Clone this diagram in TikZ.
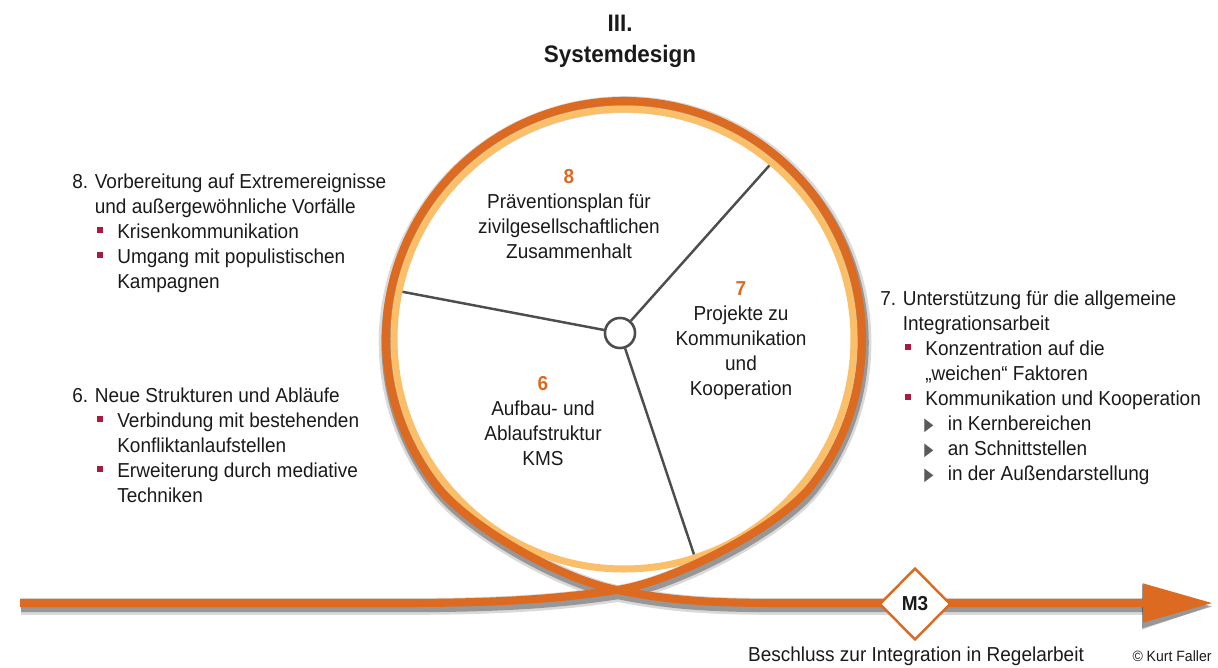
\documentclass[tikz,border=0pt]{standalone}
\usepackage{fontspec}
\setmainfont{Liberation Sans}[FakeStretch=0.94]
\newfontfamily\symfont{DejaVu Sans}
\usepackage{graphicx}
\usetikzlibrary{arrows.meta,calc,shapes.geometric}

\definecolor{korange}{HTML}{DC6A21}
\definecolor{klight}{HTML}{FBBE69}
\definecolor{bulred}{HTML}{A51C40}
\definecolor{trigray}{HTML}{5A5A5A}
\definecolor{ktext}{HTML}{1A1A1A}
\definecolor{spokegray}{HTML}{4D4D4D}

\newlength\lind
\setlength\lind{12.8pt}
\newcommand{\lnum}[1]{\makebox[\lind][l]{#1}}
\newcommand{\lgap}{\hspace*{\lind}}
\newcommand{\lsq}{\makebox[\lind][l]{\hspace{1.5pt}\textcolor{bulred}{\rule[3.2pt]{3.2pt}{3.2pt}}}}
\newcommand{\ltri}{\makebox[\lind][l]{\hspace{-.6pt}\textcolor{trigray}{\resizebox{5.2pt}{6.6pt}{\symfont ▶}}}}
\newcommand{\cnum}[1]{\textcolor{korange}{\textbf{#1}}}

\newcommand{\looppath}{(start) -- (400,603) .. controls (500,603) and (557,599) .. (cross)
  .. controls (677,581) and (781,525) .. ($(C)+(38:238)$)
  arc[start angle=38, end angle=-218, radius=238]
  .. controls (467,525) and (557,578) .. (cross)
  .. controls (677,602) and (720,603) .. (790,603) -- (end)}

\tikzset{
  loopline/.style={draw=korange, line width=4.6pt, -{Triangle[length=39.8pt, width=21pt]}},
  shadowline/.style={draw=black, opacity=#1, line width=6.5pt,
    -{Triangle[length=41pt, width=23pt]}, transform canvas={shift={(.6pt,-2pt)}}},
  lightring/.style={draw=klight, line width=4pt},
  spoke/.style={draw=spokegray, line width=1.4pt},
  hubstyle/.style={circle, draw=spokegray, line width=1.4pt, fill=white, minimum size=.6cm, inner sep=0},
  ctext/.style={align=center, anchor=north, inner sep=0, text=ktext, font=\fontsize{11.5}{14.2}\selectfont},
  lblock/.style={align=left, anchor=north west, inner sep=0, text=ktext, font=\fontsize{11.5}{14.3}\selectfont},
  milestone/.style={diamond, draw=korange, line width=1.4pt, fill=white, inner sep=0,
    minimum width=1.42cm, minimum height=1.44cm, text=ktext, font=\fontsize{11.5}{14}\selectfont\bfseries}
}

\begin{document}
\begin{tikzpicture}[x=0.02cm, y=-0.02cm]
  \useasboundingbox (0,0) rectangle (1218,667);

  \coordinate (C) at (624,339);
  \coordinate (start) at (20,603);
  \coordinate (end) at (1213,603);
  \coordinate (cross) at (617,590);

  % shadow of the loop
  \draw[shadowline=.15, line width=9.5pt] \looppath;
  \draw[shadowline=.3] \looppath;

  % spokes
  \node[hubstyle] (hub) at (620,333) {};
  \coordinate (s1) at ($(C)+(-50:232)$);
  \coordinate (s2) at ($(C)+(192:232)$);
  \coordinate (s3) at ($(C)+(72:232)$);
  \foreach \s in {s1,s2,s3}
    \draw[spoke] (hub) -- (\s);

  \draw[lightring] (C) circle[radius=230];
  \draw[loopline] \looppath;
  \node[hubstyle] at (hub) {};

  \node[milestone] (m3) at (915,604) {M3};

  % texts
  \node[ctext, font=\fontsize{13.6}{17.6}\selectfont\bfseries] (title) at (620,15) {III.\\Systemdesign};
  \node[ctext] (p8) at (569,169) {\cnum{8}\\Präventionsplan für\\zivilgesellschaftlichen\\Zusammenhalt};
  \node[ctext] (p7) at (741,281) {\cnum{7}\\Projekte zu\\Kommunikation\\und\\Kooperation};
  \node[ctext] (p6) at (543,376) {\cnum{6}\\Aufbau- und\\Ablaufstruktur\\KMS};

  \node[lblock] (b8) at (72,173) {\lnum{8.}Vorbereitung auf Extremereignisse\\
    \lgap und außergewöhnliche Vorfälle\\
    \lgap\lsq Krisenkommunikation\\
    \lgap\lsq Umgang mit populistischen\\
    \lgap\lgap Kampagnen};
  \node[lblock] (b6) at (72,387) {\lnum{6.}Neue Strukturen und Abläufe\\
    \lgap\lsq Verbindung mit bestehenden\\
    \lgap\lgap Konfliktanlaufstellen\\
    \lgap\lsq Erweiterung durch mediative\\
    \lgap\lgap Techniken};
  \node[lblock] (b7) at (880,290) {\lnum{7.}Unterstützung für die allgemeine\\
    \lgap Integrationsarbeit\\
    \lgap\lsq Konzentration auf die\\
    \lgap\lgap „weichen“ Faktoren\\
    \lgap\lsq Kommunikation und Kooperation\\
    \lgap\lgap\ltri in Kernbereichen\\
    \lgap\lgap\ltri an Schnittstellen\\
    \lgap\lgap\ltri in der Außendarstellung};

  \node[anchor=base, inner sep=0, text=ktext, font=\fontsize{11.5}{14}\selectfont] (dec) at (916,661) {Beschluss zur Integration in Regelarbeit};
  \node[anchor=base, inner sep=0, text=ktext, font=\fontsize{8.5}{10}\selectfont] (copy) at (1172,661) {© Kurt Faller};
\end{tikzpicture}
\end{document}
